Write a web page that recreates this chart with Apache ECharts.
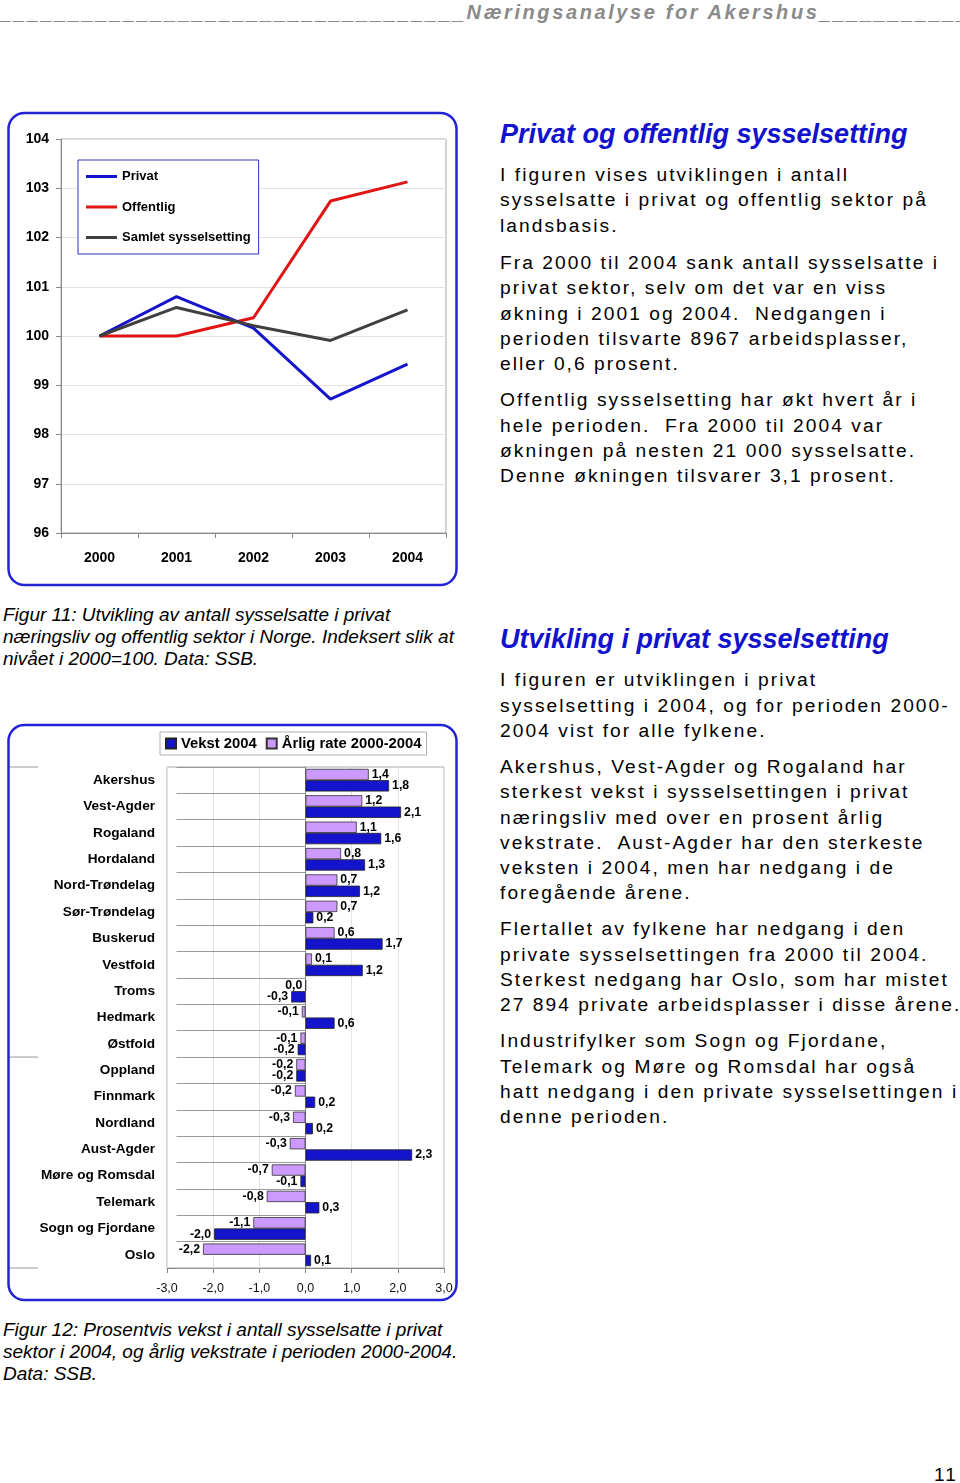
<!DOCTYPE html>
<html><head><meta charset="utf-8">
<script src="https://cdn.jsdelivr.net/npm/echarts@6/dist/echarts.min.js"></script>
<style>
html,body{margin:0;padding:0;background:#fff;}
#page{position:relative;width:960px;height:1483px;overflow:hidden;font-family:"Liberation Sans",Arial,sans-serif;}
.abs{position:absolute;white-space:pre;margin:0;}
.hdr{left:0;top:1px;font-size:20px;font-weight:bold;font-style:italic;color:#8a8a8a;letter-spacing:2.6px;line-height:23px;}
.h2{left:500px;font-size:27px;font-weight:bold;font-style:italic;color:#1212cc;line-height:32px;}
.body{left:500px;font-size:19.2px;letter-spacing:2.05px;line-height:25.3px;color:#000;}
.cap{left:3px;font-size:19px;font-style:italic;line-height:21.7px;color:#000;}
.pg{left:934px;top:1464px;font-size:19px;letter-spacing:2px;line-height:22px;color:#000;}
#c1{position:absolute;left:0;top:100px;width:470px;height:500px;}
#c2{position:absolute;left:0;top:710px;width:470px;height:600px;}
</style></head>
<body>
<div id="page">
<div class="abs hdr">__________________________________Næringsanalyse for Akershus___________</div>
<div id="c1"></div>
<div id="c2"></div>
<div class="abs h2" style="top:118px">Privat og offentlig sysselsetting</div>
<div class="abs body" style="top:162px">I figuren vises utviklingen i antall
sysselsatte i privat og offentlig sektor på
landsbasis.</div>
<div class="abs body" style="top:250px">Fra 2000 til 2004 sank antall sysselsatte i
privat sektor, selv om det var en viss
økning i 2001 og 2004.  Nedgangen i
perioden tilsvarte 8967 arbeidsplasser,
eller 0,6 prosent.</div>
<div class="abs body" style="top:387.4px">Offentlig sysselsetting har økt hvert år i
hele perioden.  Fra 2000 til 2004 var
økningen på nesten 21 000 sysselsatte.
Denne økningen tilsvarer 3,1 prosent.</div>
<div class="abs cap" style="top:604.2px">Figur 11: Utvikling av antall sysselsatte i privat
næringsliv og offentlig sektor i Norge. Indeksert slik at
nivået i 2000=100. Data: SSB.</div>
<div class="abs h2" style="top:623px">Utvikling i privat sysselsetting</div>
<div class="abs body" style="top:667.4px">I figuren er utviklingen i privat
sysselsetting i 2004, og for perioden 2000-
2004 vist for alle fylkene.</div>
<div class="abs body" style="top:754px">Akershus, Vest-Agder og Rogaland har
sterkest vekst i sysselsettingen i privat
næringsliv med over en prosent årlig
vekstrate.  Aust-Agder har den sterkeste
veksten i 2004, men har nedgang i de
foregående årene.</div>
<div class="abs body" style="top:916.4px">Flertallet av fylkene har nedgang i den
private sysselsettingen fra 2000 til 2004.
Sterkest nedgang har Oslo, som har mistet
27 894 private arbeidsplasser i disse årene.</div>
<div class="abs body" style="top:1028.4px">Industrifylker som Sogn og Fjordane,
Telemark og Møre og Romsdal har også
hatt nedgang i den private sysselsettingen i
denne perioden.</div>
<div class="abs cap" style="top:1319.2px">Figur 12: Prosentvis vekst i antall sysselsatte i privat
sektor i 2004, og årlig vekstrate i perioden 2000-2004.
Data: SSB.</div>
<div class="abs pg">11</div>
</div>
<script>
// ---- Figure 11 data ----
const years = ['2000', '2001', '2002', '2003', '2004'];
const privat = [100, 100.80, 100.16, 98.72, 99.43];
const offentlig = [100, 100, 100.37, 102.74, 103.13];
const samlet = [100, 100.58, 100.21, 99.91, 100.53];
const lineSeriesNames = ['Privat', 'Offentlig', 'Samlet sysselsetting'];
const indexMin = 96, indexMax = 104, indexStep = 1;

// ---- Figure 12 data ----
const fylker = ['Akershus', 'Vest-Agder', 'Rogaland', 'Hordaland', 'Nord-Trøndelag', 'Sør-Trøndelag',
  'Buskerud', 'Vestfold', 'Troms', 'Hedmark', 'Østfold', 'Oppland', 'Finnmark', 'Nordland',
  'Aust-Agder', 'Møre og Romsdal', 'Telemark', 'Sogn og Fjordane', 'Oslo'];
const vekst2004 = [1.81, 2.07, 1.64, 1.29, 1.18, 0.17, 1.67, 1.24, -0.31, 0.63, -0.17, -0.2, 0.21, 0.16, 2.31, -0.11, 0.3, -1.98, 0.12];
const arligRate = [1.37, 1.23, 1.11, 0.77, 0.69, 0.69, 0.63, 0.14, 0.01, -0.08, -0.11, -0.2, -0.23, -0.27, -0.34, -0.73, -0.84, -1.13, -2.22];
const barSeriesNames = ['Vekst 2004', 'Årlig rate 2000-2004'];
const pctMin = -3, pctMax = 3, pctStep = 1;

const FONT = '"Liberation Sans", Arial, sans-serif';
const comma = v => (Math.abs(v) < 0.05 ? 0 : v).toFixed(1).replace('.', ',');

// ---------- Chart 1 ----------
const c1 = echarts.init(document.getElementById('c1'), null, {renderer: 'canvas'});
c1.setOption({
  animation: false,
  textStyle: {fontFamily: FONT},
  graphic: [{type: 'rect', z: 100, silent: true,
    shape: {x: 8.5, y: 13, width: 448, height: 472, r: 16},
    style: {fill: 'none', stroke: '#2323d6', lineWidth: 2.5}}],
  legend: {
    orient: 'vertical', left: 78, top: 60,
    data: lineSeriesNames,
    icon: 'rect', itemWidth: 31, itemHeight: 3, itemGap: 17.5,
    padding: [10, 8, 10, 8],
    borderColor: '#3030c0', borderWidth: 1, backgroundColor: '#fff',
    textStyle: {fontFamily: FONT, fontSize: 13, fontWeight: 'bold', color: '#000'}
  },
  grid: {left: 61, top: 39, width: 385, height: 394, show: true,
    borderColor: '#a8a8a8', borderWidth: 1, backgroundColor: 'transparent', containLabel: false, outerBoundsMode: 'none'},
  xAxis: {
    type: 'category', data: years, boundaryGap: true,
    axisLine: {show: true, lineStyle: {color: '#888', width: 1}},
    axisTick: {show: true, length: 5, alignWithLabel: false, lineStyle: {color: '#888'}},
    axisLabel: {color: '#000', fontFamily: FONT, fontSize: 14, fontWeight: 'bold', margin: 18},
    splitLine: {show: false}
  },
  yAxis: {
    type: 'value', min: indexMin, max: indexMax, interval: indexStep,
    axisLine: {show: true, lineStyle: {color: '#888', width: 1}},
    axisTick: {show: true, length: 5, lineStyle: {color: '#888'}},
    axisLabel: {color: '#000', fontFamily: FONT, fontSize: 14, fontWeight: 'bold', margin: 12},
    splitLine: {show: true, lineStyle: {color: '#e2e2e2', width: 1}}
  },
  series: [
    {name: lineSeriesNames[0], type: 'line', data: privat, showSymbol: false, symbol: 'none',
      lineStyle: {color: '#1414cc', width: 3}, itemStyle: {color: '#1414cc'}, z: 3},
    {name: lineSeriesNames[1], type: 'line', data: offentlig, showSymbol: false, symbol: 'none',
      lineStyle: {color: '#e01414', width: 3}, itemStyle: {color: '#e01414'}, z: 2},
    {name: lineSeriesNames[2], type: 'line', data: samlet, showSymbol: false, symbol: 'none',
      lineStyle: {color: '#404040', width: 3}, itemStyle: {color: '#404040'}, z: 4}
  ]
});

// ---------- Chart 2 ----------
const G2 = {left: 167, top: 57, width: 277, height: 501};
const c2 = echarts.init(document.getElementById('c2'), null, {renderer: 'canvas'});
const labelBase = {show: true, formatter: p => comma(p.value), fontFamily: FONT, fontSize: 12.3,
  fontWeight: 'bold', color: '#000', distance: 3};
const mkData = arr => arr.map(v => ({value: v, label: {position: v >= 0.05 ? 'right' : 'left'}}));
const sepY = [G2.top, G2.top + G2.height * 11 / fylker.length, G2.top + G2.height];
c2.setOption({
  animation: false,
  textStyle: {fontFamily: FONT},
  graphic: [
    {type: 'rect', z: 100, silent: true,
      shape: {x: 8.5, y: 15, width: 448, height: 575, r: 16},
      style: {fill: 'none', stroke: '#2323d6', lineWidth: 2.5}}
  ].concat(sepY.map(y => ({type: 'line', silent: true, z: 50,
      shape: {x1: 9, y1: y, x2: G2.left - 129, y2: y},
      style: {stroke: '#999', lineWidth: 1}}))),
  legend: {
    left: 160, top: 22,
    data: barSeriesNames,
    icon: 'rect', itemWidth: 10, itemHeight: 10, itemGap: 9,
    padding: [4, 5, 4, 5],
    borderColor: '#b0b0b0', borderWidth: 1, backgroundColor: '#fff',
    textStyle: {fontFamily: FONT, fontSize: 14.8, fontWeight: 'bold', color: '#000'}
  },
  grid: Object.assign({show: true, borderColor: '#a8a8a8', borderWidth: 1,
    backgroundColor: 'transparent', containLabel: false, outerBoundsMode: 'none'}, G2),
  xAxis: {
    type: 'value', min: pctMin, max: pctMax, interval: pctStep,
    axisLine: {show: true, lineStyle: {color: '#888', width: 1}},
    axisTick: {show: true, length: 5, lineStyle: {color: '#888'}},
    axisLabel: {color: '#111', fontFamily: FONT, fontSize: 12.5, margin: 14, formatter: v => comma(v)},
    splitLine: {show: true, lineStyle: {color: '#e2e2e2', width: 1}}
  },
  yAxis: {
    type: 'category', data: fylker, inverse: true, boundaryGap: true,
    axisLine: {show: true, lineStyle: {color: '#888', width: 1}},
    axisTick: {show: true, length: 129, alignWithLabel: false, lineStyle: {color: '#999'}},
    axisLabel: {color: '#000', fontFamily: FONT, fontSize: 13.6, fontWeight: 'bold', margin: 12},
    splitLine: {show: false}
  },
  series: [
    {name: barSeriesNames[1], type: 'bar', data: mkData(arligRate), barGap: '0%', barCategoryGap: '14%',
      itemStyle: {color: '#cc99ff', borderColor: '#333', borderWidth: 0.8}, label: labelBase},
    {name: barSeriesNames[0], type: 'bar', data: mkData(vekst2004), barGap: '0%', barCategoryGap: '14%',
      itemStyle: {color: '#1414cc', borderColor: '#222', borderWidth: 0.8}, label: labelBase}
  ]
});
</script>
</body></html>
